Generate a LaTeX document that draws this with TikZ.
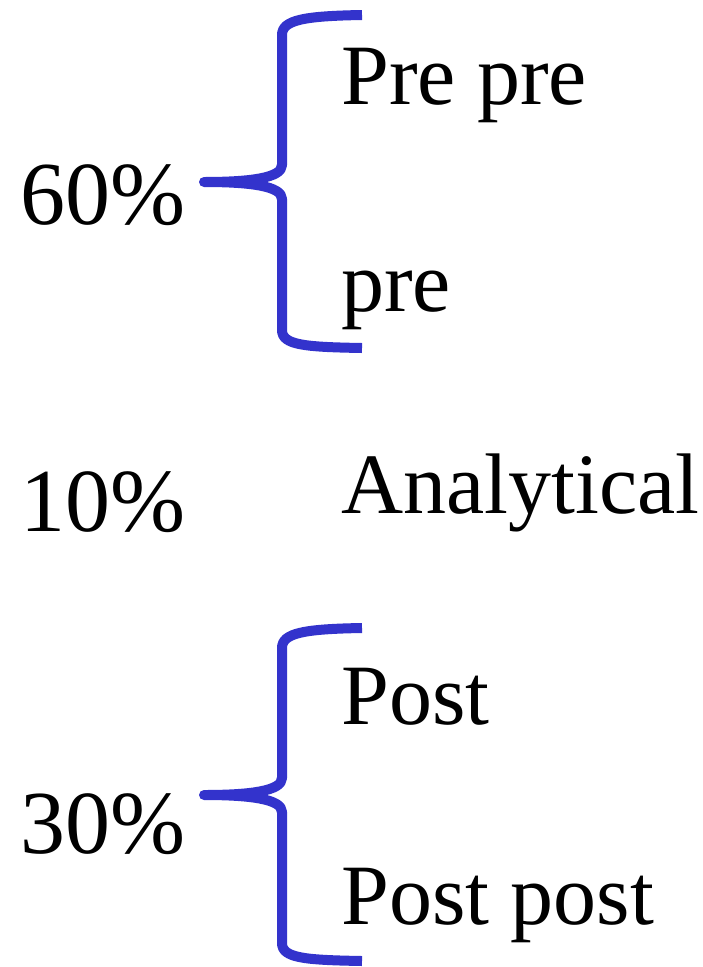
\documentclass[tikz,border=0pt]{standalone}
\usepackage{fontspec}
\setmainfont{Liberation Serif}
\usetikzlibrary{calc}
\definecolor{braceblue}{HTML}{3333CC}
\begin{document}
\begin{tikzpicture}[x=1pt,y=-1pt,
  itemtext/.style={anchor=base west,inner sep=0pt,font=\fontsize{86}{100}\selectfont},
  pct/.style={anchor=base west,inner sep=0pt,font=\fontsize{90}{110}\selectfont},
  bracepath/.style={draw=braceblue,line width=10pt,line cap=butt,line join=round}]
  \useasboundingbox (0,0) rectangle (703,967);
  % left curly brace, drawn with its tip at the given coordinate
  \newcommand{\leftbrace}[1]{%
    \draw[bracepath] ($(#1)+(158,-167)$)
      .. controls +(-58,1) and +(0,-15) .. ($(#1)+(78,-147)$)
      -- ($(#1)+(78,-17)$)
      .. controls +(0,13) and +(46,0) .. (#1)
      .. controls +(46,0) and +(0,-13) .. ($(#1)+(78,17)$)
      -- ($(#1)+(78,148)$)
      .. controls +(0,15) and +(-58,-1) .. ($(#1)+(158,166)$);}
  \coordinate (tipA) at (204,182);
  \coordinate (tipB) at (204,795);
  \leftbrace{tipA}
  \leftbrace{tipB}
  \node[pct] (p60) at (20,224) {60\%};
  \node[pct] (p10) at (20,531) {10\%};
  \node[pct] (p30) at (20,853) {30\%};
  \node[itemtext] (prepre) at (341,104) {Pre pre};
  \node[itemtext] (pre) at (341,311) {pre};
  \node[itemtext] (ana) at (341,513) {Analytical};
  \node[itemtext] (post) at (341,724) {Post};
  \node[itemtext] (postpost) at (341,924) {Post post};
\end{tikzpicture}
\end{document}
